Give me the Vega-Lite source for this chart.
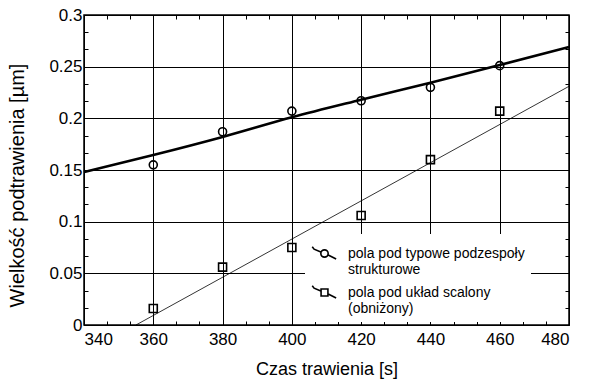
{
  "$schema": "https://vega.github.io/schema/vega-lite/v6.json",
  "width": 485,
  "height": 310,
  "autosize": {"type": "none"},
  "padding": {"left": 84, "top": 15, "right": 46, "bottom": 55},
  "background": "white",
  "config": {
    "font": "Liberation Sans",
    "view": {"stroke": "black", "strokeWidth": 1.5},
    "axis": {
      "gridColor": "black", "gridWidth": 1,
      "domain": false, "tickColor": "black", "tickWidth": 1,
      "labelFont": "Liberation Sans", "labelFontSize": 17, "labelColor": "black",
      "titleFont": "Liberation Sans", "titleFontSize": 18, "titleFontWeight": "normal", "titleColor": "black"
    }
  },
  "datasets": {
    "pts": [
      {"series": "a", "t": 360, "v": 0.155},
      {"series": "a", "t": 380, "v": 0.187},
      {"series": "a", "t": 400, "v": 0.207},
      {"series": "a", "t": 420, "v": 0.217},
      {"series": "a", "t": 440, "v": 0.230},
      {"series": "a", "t": 460, "v": 0.251},
      {"series": "b", "t": 360, "v": 0.016},
      {"series": "b", "t": 380, "v": 0.056},
      {"series": "b", "t": 400, "v": 0.075},
      {"series": "b", "t": 420, "v": 0.106},
      {"series": "b", "t": 440, "v": 0.160},
      {"series": "b", "t": 460, "v": 0.207}
    ],
    "fit1": [
      {"t": 340, "v": 0.148},
      {"t": 360, "v": 0.1645},
      {"t": 380, "v": 0.182},
      {"t": 400, "v": 0.201},
      {"t": 420, "v": 0.218},
      {"t": 440, "v": 0.2345},
      {"t": 460, "v": 0.2516},
      {"t": 480, "v": 0.269}
    ],
    "fit2": [
      {"t": 355, "v": 0.0},
      {"t": 480, "v": 0.231}
    ]
  },
  "layer": [
    {"data": {"name": "fit1"}, "mark": {"type": "line", "color": "black", "strokeWidth": 2.5, "interpolate": "monotone"},
      "encoding": {
        "x": {"field": "t", "type": "quantitative",
          "scale": {"domain": [340, 480], "nice": false, "zero": false},
          "axis": {"orient": "bottom",
            "values": [340, 346.6667, 353.3333, 360, 366.6667, 373.3333, 380, 386.6667, 393.3333, 400, 406.6667, 413.3333, 420, 426.6667, 433.3333, 440, 446.6667, 453.3333, 460, 466.6667, 473.3333, 480],
            "tickSize": -4,
            "grid": true,
            "gridOpacity": {"condition": {"test": "abs(datum.value/20 - round(datum.value/20)) < 0.001", "value": 1}, "value": 0},
            "labelExpr": "abs(datum.value/20 - round(datum.value/20)) < 0.001 ? format(datum.value, 'd') : ''",
            "title": "Czas trawienia [s]", "labelPadding": 10, "titlePadding": 13}},
        "y": {"field": "v", "type": "quantitative",
          "scale": {"domain": [0, 0.3], "nice": false},
          "axis": {"orient": "left",
            "values": [0, 0.016667, 0.033333, 0.05, 0.066667, 0.083333, 0.1, 0.116667, 0.133333, 0.15, 0.166667, 0.183333, 0.2, 0.216667, 0.233333, 0.25, 0.266667, 0.283333, 0.3],
            "tickSize": -4,
            "grid": true,
            "gridOpacity": {"condition": {"test": "abs(datum.value*20 - round(datum.value*20)) < 0.001", "value": 1}, "value": 0},
            "labelExpr": "abs(datum.value*20 - round(datum.value*20)) < 0.001 ? format(round(datum.value*20)/20, '~g') : ''",
            "title": "Wielkość podtrawienia [µm]", "titleFontSize": 20, "titleBaseline": "middle", "titleX": -67, "titleY": 170,
            "labelPadding": 6}}
      }},
    {"data": {"name": "fit2"}, "mark": {"type": "line", "color": "black", "strokeWidth": 0.8},
      "encoding": {
        "x": {"field": "t", "type": "quantitative",
          "axis": {"orient": "top",
            "values": [346.6667, 353.3333, 366.6667, 373.3333, 386.6667, 393.3333, 406.6667, 413.3333, 426.6667, 433.3333, 446.6667, 453.3333, 466.6667, 473.3333],
            "tickSize": -4, "labels": false, "grid": false, "title": null}},
        "y": {"field": "v", "type": "quantitative",
          "axis": {"orient": "right",
            "values": [0.016667, 0.033333, 0.066667, 0.083333, 0.116667, 0.133333, 0.166667, 0.183333, 0.216667, 0.233333, 0.266667, 0.283333],
            "tickSize": -4, "labels": false, "grid": false, "title": null}}
      }},
    {"data": {"name": "pts"}, "mark": {"type": "point", "filled": false, "stroke": "black", "strokeWidth": 1.6, "size": 64, "opacity": 1},
      "encoding": {
        "x": {"field": "t", "type": "quantitative", "axis": null},
        "y": {"field": "v", "type": "quantitative", "axis": null},
        "shape": {"field": "series", "type": "nominal", "scale": {"domain": ["a", "b"], "range": ["circle", "square"]}, "legend": null}}},
    {"data": {"name": "pts"}, "mark": {"type": "point", "opacity": 0},
      "encoding": {
        "x": {"field": "t", "type": "quantitative", "axis": null},
        "y": {"field": "v", "type": "quantitative", "axis": null},
        "shape": {"field": "series", "type": "nominal",
        "scale": {"domain": ["a", "b"], "range": [
          "M-1,-0.55L-0.85,-0.35L-0.3,-0.12M0.3,0.12L0.95,0.45M-0.3,0A0.3,0.3 0 1,1 0.3,0A0.3,0.3 0 1,1 -0.3,0",
          "M-1,-0.55L-0.85,-0.35L-0.3,-0.12M0.3,0.12L0.95,0.45M-0.28,-0.28L0.28,-0.28L0.28,0.28L-0.28,0.28Z"
        ]},
        "legend": {
          "orient": "none", "legendX": 221, "legendY": 219,
          "title": null, "fillColor": "white", "padding": 6,
          "symbolSize": 600, "symbolOpacity": 1, "symbolFillColor": "white", "symbolStrokeColor": "black", "symbolStrokeWidth": 1.6,
          "labelFont": "Liberation Sans", "labelFontSize": 14, "labelColor": "black", "labelLimit": 300, "labelOffset": 10,
          "rowPadding": 2,
          "labelExpr": "datum.value == 'a' ? ['pola pod typowe podzespoły', 'strukturowe'] : ['pola pod układ scalony', '(obniżony)']"
        }}}}
  ],
  "resolve": {"scale": {"shape": "independent"}, "legend": {"shape": "independent"}, "axis": {"x": "independent", "y": "independent"}}
}
